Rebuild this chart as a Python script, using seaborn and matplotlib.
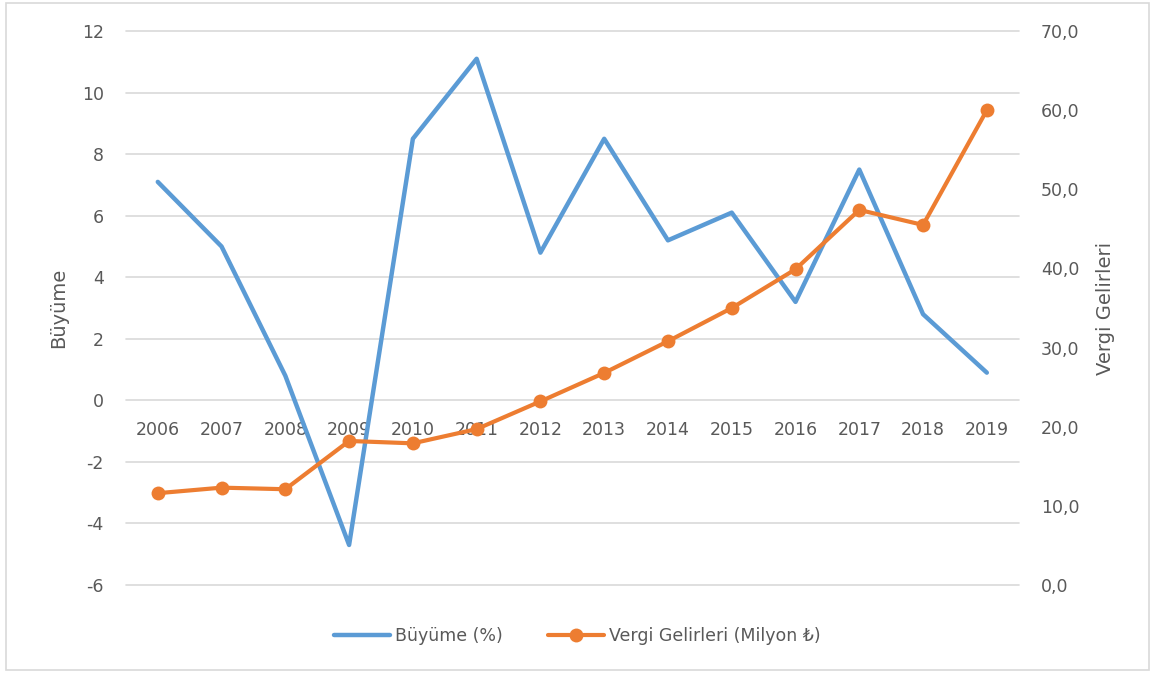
import pandas as pd
import numpy as np
import seaborn as sns
import matplotlib.pyplot as plt
from matplotlib.patches import Rectangle
from matplotlib.lines import Line2D
from matplotlib.ticker import FuncFormatter

# values
years = [2006, 2007, 2008, 2009, 2010, 2011, 2012, 2013, 2014, 2015, 2016, 2017, 2018, 2019]
buyume = [7.1, 5.0, 0.8, -4.7, 8.5, 11.1, 4.8, 8.5, 5.2, 6.1, 3.2, 7.5, 2.8, 0.9]
vergi = [11.6, 12.3, 12.1, 18.2, 17.9, 19.7, 23.2, 26.8, 30.8, 35.0, 39.9, 47.4, 45.5, 60.0]

df = pd.DataFrame({'year': years, 'buyume': buyume, 'vergi': vergi})

sns.set_style('white')
plt.rcParams['font.family'] = ['DejaVu Sans']
plt.rcParams['axes.unicode_minus'] = False

blue = '#5B9BD5'
orange = '#ED7D31'
text_grey = '#595959'
fs = 12.5

fig = plt.figure(figsize=(11.55, 6.73), dpi=100)
ax = fig.add_axes([0.109, 0.1308, 0.773, 0.823])
ax2 = ax.twinx()

# gridlines come from the left axis
ax.set_ylim(-6, 12)
ax.set_yticks(np.arange(-6, 13, 2))
ax.yaxis.grid(True, color='#D9D9D9', linewidth=1.2)
ax.set_axisbelow(True)

sns.lineplot(data=df, x='year', y='buyume', ax=ax, color=blue, linewidth=3.2, zorder=3)
sns.lineplot(data=df, x='year', y='vergi', ax=ax2, color=orange, linewidth=3.0,
             marker='o', markersize=10, markeredgewidth=0, zorder=3)

ax.set_xlim(2005.5, 2019.5)
ax.set_xticks(years)
ax.set_xticklabels([str(y) for y in years])
ax2.set_ylim(0, 70)
ax2.set_yticks(np.arange(0, 71, 10))
ax2.yaxis.set_major_formatter(FuncFormatter(lambda v, p: f'{v:.1f}'.replace('.', ',')))

# keep the top and bottom gridlines full width
for gl in ax.get_ygridlines():
    gl.set_clip_on(False)

# year labels sit on the zero line
ax.spines['bottom'].set_position(('data', 0))
for a in (ax, ax2):
    for s in a.spines.values():
        s.set_visible(False)
ax.tick_params(axis='x', length=0, pad=15, labelsize=fs, labelcolor=text_grey)
ax.tick_params(axis='y', length=0, pad=16, labelsize=fs, labelcolor=text_grey)
ax2.tick_params(axis='y', length=0, pad=16, labelsize=fs, labelcolor=text_grey)

ax.set_xlabel('')
ax.set_ylabel('Büyüme', fontsize=14, color=text_grey, labelpad=10)
ax2.set_ylabel('Vergi Gelirleri', fontsize=14, color=text_grey, labelpad=12)

handles = [Line2D([], [], color=blue, linewidth=3.2),
           Line2D([], [], color=orange, linewidth=3.0, marker='o', markersize=10, markeredgewidth=0)]
fig.legend(handles, ['Büyüme (%)', 'Vergi Gelirleri (Milyon ₺)'], loc='center',
           bbox_to_anchor=(0.5, 0.055), ncol=2, frameon=False, fontsize=fs,
           labelcolor=text_grey, handlelength=3.2, columnspacing=2.6, handletextpad=0.3)

# light frame around the chart
fig.patches.append(Rectangle((0.005, 0.004), 0.99, 0.992, transform=fig.transFigure,
                             fill=False, edgecolor='#D9D9D9', linewidth=1.2))

fig.savefig('out.png', dpi=100)
